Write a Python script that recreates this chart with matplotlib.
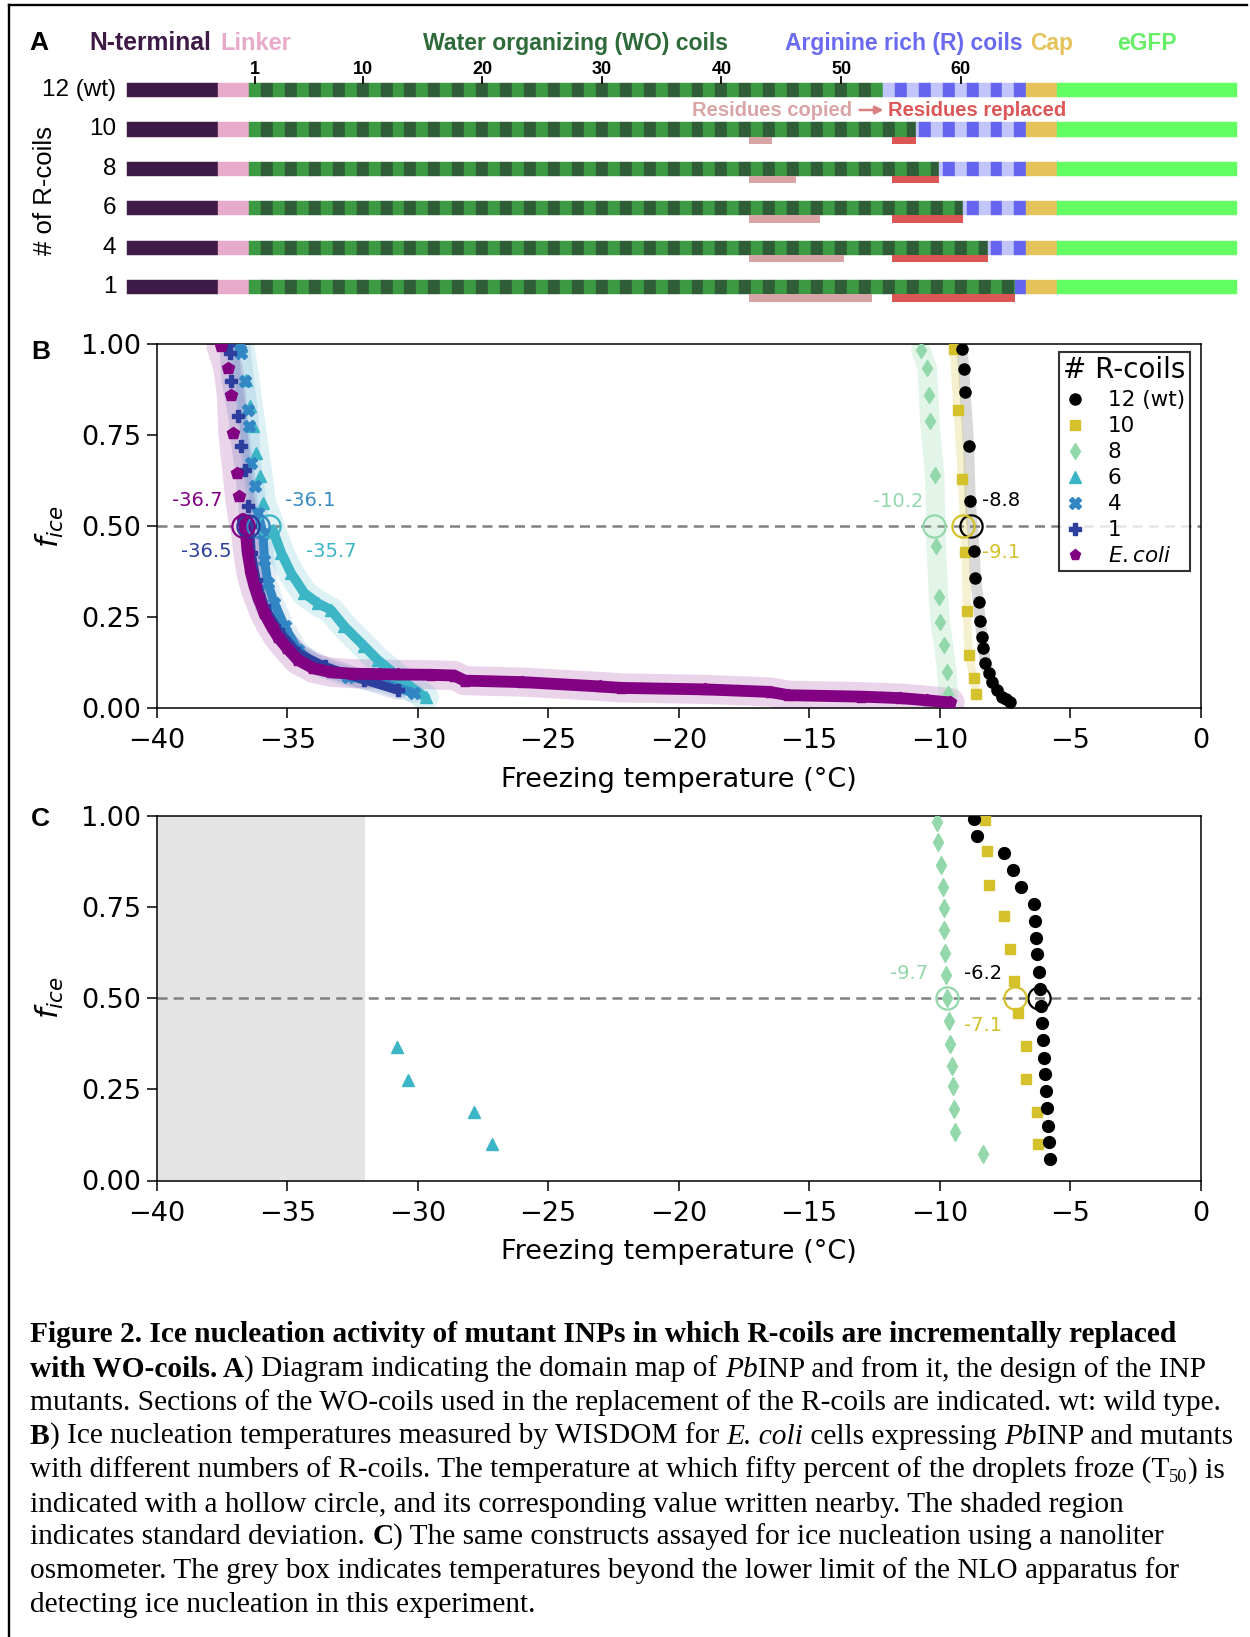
import matplotlib
matplotlib.use("Agg")
import matplotlib.pyplot as plt
from matplotlib.lines import Line2D
from matplotlib.font_manager import FontProperties
import math

W, H, DPI = 1250, 1637, 100

# ---------------- Panel A: domain map (x in coil units) ----------------
row_labels = ["12 (wt)", "10", "8", "6", "4", "1"]
wo_coil_end = [53.0, 55.78, 57.73, 59.74, 61.76, 64.04]
copied_start = 41.77
copied_end = [None, 43.72, 45.74, 47.75, 49.73, 52.08]
replaced_start = 53.76
nterm_range = (-10.17, -2.57)
linker_range = (-2.57, 0.0)
r_coil_end = 65.0
cap_range = (65.0, 67.57)
egfp_range = (67.57, 82.65)
coil_tick_numbers = [1, 10, 20, 30, 40, 50, 60]

# ---------------- Panel B: WISDOM ----------------
b_wt_T = [-9.14, -9.08, -9.02, -8.89, -8.83, -8.67, -8.63, -8.51, -8.45, -8.38, -8.32, -8.25, -8.12, -7.99, -7.80, -7.61, -7.45, -7.29]
b_wt_f = [0.986, 0.931, 0.868, 0.720, 0.569, 0.431, 0.359, 0.291, 0.240, 0.197, 0.166, 0.125, 0.096, 0.073, 0.050, 0.032, 0.025, 0.018]
b_r10_T = [-9.46, -9.31, -9.14, -9.02, -8.95, -8.89, -8.70, -8.60]
b_r10_f = [0.986, 0.820, 0.630, 0.430, 0.267, 0.147, 0.083, 0.040]
b_r8_T = [-10.72, -10.48, -10.42, -10.38, -10.19, -10.13, -10.04, -9.98, -9.85, -9.72, -9.67]
b_r8_f = [0.985, 0.936, 0.862, 0.789, 0.642, 0.445, 0.307, 0.238, 0.174, 0.100, 0.040]
b_r6_T = [-36.76, -36.57, -36.44, -36.32, -36.19, -36.06, -35.93, -35.55, -35.23, -34.85, -34.34, -33.83, -33.32, -32.81, -32.04, -31.53, -30.80, -30.20, -29.70]
b_r6_f = [0.995, 0.903, 0.830, 0.775, 0.700, 0.637, 0.565, 0.490, 0.427, 0.371, 0.316, 0.289, 0.270, 0.225, 0.170, 0.133, 0.090, 0.055, 0.030]
b_r4_T = [-36.80, -36.76, -36.63, -36.50, -36.45, -36.38, -36.25, -36.12, -35.93, -35.87, -35.74, -35.49, -35.10, -34.59, -33.83, -32.68, -31.28, -30.13]
b_r4_f = [1.000, 0.977, 0.900, 0.820, 0.775, 0.674, 0.610, 0.537, 0.480, 0.408, 0.344, 0.289, 0.225, 0.161, 0.115, 0.087, 0.069, 0.041]
b_r1_T = [-37.25, -37.21, -37.14, -36.89, -36.76, -36.63, -36.50, -36.44, -36.38, -36.19, -35.87, -35.36, -34.59, -33.57, -32.04, -30.77]
b_r1_f = [1.000, 0.977, 0.900, 0.803, 0.720, 0.656, 0.555, 0.500, 0.427, 0.353, 0.280, 0.216, 0.152, 0.115, 0.078, 0.050]
b_ec_T = [-37.53, -37.27, -37.14, -37.08, -36.92, -36.83, -36.70, -36.57, -36.51, -36.38, -36.25, -36.12, -35.87, -35.60, -35.36, -35.00, -34.59, -34.00, -33.32, -32.50, -31.50, -30.77, -29.50, -28.60, -28.20, -26.00, -23.00, -22.20, -19.00, -16.50, -15.80, -13.00, -11.50, -10.50, -9.60]
b_ec_f = [0.995, 0.935, 0.862, 0.757, 0.647, 0.582, 0.520, 0.472, 0.427, 0.371, 0.335, 0.307, 0.261, 0.225, 0.197, 0.165, 0.133, 0.110, 0.099, 0.095, 0.094, 0.093, 0.092, 0.090, 0.076, 0.072, 0.060, 0.056, 0.052, 0.045, 0.036, 0.032, 0.028, 0.022, 0.016]

b_t50 = {"12 (wt)": -8.8, "10": -9.1, "8": -10.2, "6": -35.7, "4": -36.1, "1": -36.5, "E. coli": -36.7}

# ---------------- Panel C: nanoliter osmometer ----------------
c_wt_T = [-8.67, -8.57, -7.52, -7.19, -6.89, -6.40, -6.34, -6.30, -6.25, -6.21, -6.15, -6.12, -6.08, -6.04, -5.99, -5.95, -5.93, -5.89, -5.86, -5.80, -5.78]
c_wt_f = [0.991, 0.945, 0.898, 0.850, 0.805, 0.757, 0.711, 0.666, 0.620, 0.572, 0.524, 0.479, 0.431, 0.386, 0.337, 0.292, 0.244, 0.198, 0.150, 0.105, 0.059]
c_r10_T = [-8.25, -8.19, -8.09, -7.52, -7.29, -7.14, -7.01, -6.68, -6.68, -6.27, -6.22]
c_r10_f = [0.989, 0.902, 0.811, 0.725, 0.635, 0.547, 0.458, 0.369, 0.278, 0.189, 0.100]
c_r8_T = [-10.10, -10.08, -9.95, -9.87, -9.84, -9.82, -9.78, -9.74, -9.71, -9.65, -9.62, -9.53, -9.49, -9.44, -9.40, -8.32]
c_r8_f = [0.984, 0.927, 0.866, 0.805, 0.748, 0.686, 0.625, 0.562, 0.499, 0.4375, 0.374, 0.314, 0.260, 0.196, 0.132, 0.073]
c_r6_T = [-30.80, -30.36, -27.84, -27.16]
c_r6_f = [0.367, 0.276, 0.187, 0.099]
c_t50 = {"12 (wt)": -6.2, "10": -7.1, "8": -9.7}
nlo_limit = -32.0

x_ticks = [-40, -35, -30, -25, -20, -15, -10, -5, 0]
y_ticks = [0.0, 0.25, 0.5, 0.75, 1.0]

# ---------------- styles ----------------
C_BLACK = "#000000"
C_YEL = "#d4c12b"
C_GRN = "#93d8ab"
C_CYAN = "#3cb6c6"
C_BLUE = "#3386c4"
C_DBLUE = "#2c3e9e"
C_PURP = "#820082"

fig = plt.figure(figsize=(W / DPI, H / DPI), dpi=DPI)
fig.patch.set_facecolor("white")

def fx(px):
    return px / W

def fy(py):
    return 1 - py / H

# ================= Panel A =================
PX0, PPC = 249.0, 11.96          # pixel of coil 0 and pixels per coil
ROW0, ROWSTEP, AH = 90.0, 39.45, 322.0
ax_a = fig.add_axes([0, 1 - AH / H, 1, AH / H])
ax_a.set_xlim(-PX0 / PPC, (W - PX0) / PPC)
ax_a.set_ylim((AH - ROW0) / ROWSTEP, -ROW0 / ROWSTEP)
ax_a.axis("off")

SANS = "Liberation Sans"
C_NT, C_LK = "#3e1a47", "#e8aacb"
C_WO_L, C_WO_D = "#3c9a43", "#2f5d37"
C_R_L, C_R_D = "#c2c5fb", "#6464ee"
C_CAP, C_EGFP = "#e5c25a", "#63ff63"
C_COPY, C_REPL = "#d9a4a6", "#dc5656"
bh = 0.36

for i, lab in enumerate(row_labels):
    ranges, cols = [], []
    ranges.append((nterm_range[0], nterm_range[1] - nterm_range[0])); cols.append(C_NT)
    ranges.append((linker_range[0], linker_range[1] - linker_range[0])); cols.append(C_LK)
    end = wo_coil_end[i]
    k = 0
    while k < end:
        e = min(k + 1, end)
        ranges.append((k, e - k)); cols.append(C_WO_L if (k + 1) % 2 == 1 else C_WO_D)
        k += 1
    k = math.floor(end)
    while k < r_coil_end:
        s = max(k, end)
        ranges.append((s, k + 1 - s)); cols.append(C_R_D if (k + 1) % 2 == 1 else C_R_L)
        k += 1
    ranges.append((cap_range[0], cap_range[1] - cap_range[0])); cols.append(C_CAP)
    ranges.append((egfp_range[0], egfp_range[1] - egfp_range[0])); cols.append(C_EGFP)
    ax_a.broken_barh(ranges, (i - bh / 2, bh), facecolors=cols, edgecolors=cols, linewidth=0.3)
    if copied_end[i] is not None:
        ax_a.broken_barh([(copied_start, copied_end[i] - copied_start)], (i + bh / 2, 0.19),
                         facecolors=C_COPY, linewidth=0)
        ax_a.broken_barh([(replaced_start, end - replaced_start)], (i + bh / 2, 0.19),
                         facecolors=C_REPL, linewidth=0)
    ax_a.text(-11.1, i, lab, ha="right", va="center", fontsize=17.5, family=SANS)

# coil number ticks
for n in coil_tick_numbers:
    ax_a.plot([n - 0.5, n - 0.5], [-0.34, -0.18], color="black", lw=1.3)
    ax_a.text(n - 0.5, -0.41, str(n), ha="center", va="baseline", fontsize=13,
              fontweight="bold", family=SANS)

hy = -1.02
ax_a.text(-18.4, hy, "A", ha="left", va="baseline", fontsize=19, fontweight="bold", family=SANS)
ax_a.text(-13.38, hy, "N-terminal", ha="left", va="baseline", fontsize=17.8, fontweight="bold", color=C_NT, family=SANS)
ax_a.text(-2.42, hy, "Linker", ha="left", va="baseline", fontsize=17, fontweight="bold", color=C_LK, family=SANS)
ax_a.text(14.55, hy, "Water organizing (WO) coils", ha="left", va="baseline", fontsize=16.6, fontweight="bold", color="#2f6b3a", family=SANS)
ax_a.text(44.79, hy, "Arginine rich (R) coils", ha="left", va="baseline", fontsize=16.5, fontweight="bold", color="#6a6af0", family=SANS)
ax_a.text(65.28, hy, "Cap", ha="left", va="baseline", fontsize=16.5, fontweight="bold", color=C_CAP, family=SANS)
ax_a.text(72.55, hy, "eGFP", ha="left", va="baseline", fontsize=16.5, fontweight="bold", color="#66ee66", family=SANS)

ax_a.text(37.07, 0.507, "Residues copied", ha="left", va="center", fontsize=14.5, fontweight="bold", color=C_COPY, family=SANS)
ax_a.text(53.46, 0.507, "Residues replaced", ha="left", va="center", fontsize=14.5, fontweight="bold", color=C_REPL, family=SANS)
ax_a.annotate("", xy=(53.05, 0.507), xytext=(51.05, 0.507),
              arrowprops=dict(arrowstyle="-|>", color="#d98080", lw=1.8, mutation_scale=12,
                              shrinkA=0, shrinkB=0))
ax_a.text(-17.06, 2.535, "# of R-coils", rotation=90, ha="center", va="center", fontsize=18.5, family=SANS)

# ================= Panels B and C =================
AX_L, AX_R = 156.7, 1200.6

def make_axes(top, bottom):
    ax = fig.add_axes([fx(AX_L), fy(bottom), (AX_R - AX_L) / W, (bottom - top) / H])
    ax.set_xlim(-40, 0)
    ax.set_ylim(0, 1)
    ax.set_xticks(x_ticks)
    ax.set_yticks(y_ticks)
    ax.set_yticklabels(["%.2f" % v for v in y_ticks])
    ax.tick_params(axis="both", labelsize=19.5, length=7, width=1.1, direction="out")
    ax.tick_params(axis="x", pad=7.5)
    ax.tick_params(axis="y", pad=4)
    for s in ax.spines.values():
        s.set_linewidth(1.1)
    ax.set_xlabel("Freezing temperature (°C)", fontsize=19.5, labelpad=9)
    ax.set_ylabel("$f_{ice}$", fontsize=22, labelpad=11)
    ax.axhline(0.5, color="#808080", lw=1.8, ls=(0, (4, 2.5)), zorder=1)
    return ax

ax_b = make_axes(344.3, 708.3)
ax_c = make_axes(815.7, 1180.5)

def band(ax, T, f, color, lw, alpha):
    ax.plot(T, f, color=color, lw=lw, alpha=alpha, solid_capstyle="round",
            solid_joinstyle="round", zorder=2)

def series(ax, T, f, color, marker, ms, dense_from=None, dense_lw=6.0, z=3):
    if dense_from is not None:
        ax.plot(T[dense_from:], f[dense_from:], color=color, lw=dense_lw,
                solid_capstyle="round", solid_joinstyle="round", zorder=z)
    ax.plot(T, f, ls="none", marker=marker, ms=ms, color=color, mec=color, zorder=z)

# bands (standard deviation)
band(ax_b, b_ec_T, b_ec_f, C_PURP, 21, 0.17)
band(ax_b, b_r6_T, b_r6_f, C_CYAN, 19, 0.17)
band(ax_b, b_r4_T, b_r4_f, C_BLUE, 14, 0.14)
band(ax_b, b_r1_T, b_r1_f, C_DBLUE, 14, 0.14)
band(ax_b, b_r8_T, b_r8_f, C_GRN, 14, 0.25)
band(ax_b, b_wt_T, b_wt_f, "#909090", 8, 0.35)
band(ax_b, b_r10_T, b_r10_f, C_YEL, 6, 0.22)

series(ax_b, b_r6_T, b_r6_f, C_CYAN, "^", 8, dense_from=7, dense_lw=7, z=3)
series(ax_b, b_r4_T, b_r4_f, C_BLUE, "X", 8, dense_from=7, dense_lw=6.5, z=3.1)
series(ax_b, b_r1_T, b_r1_f, C_DBLUE, "P", 8, dense_from=7, dense_lw=6.5, z=3.2)
series(ax_b, b_ec_T, b_ec_f, C_PURP, "p", 9, dense_from=6, dense_lw=8.5, z=3.3)
series(ax_b, b_r8_T, b_r8_f, C_GRN, "d", 8, z=3)
series(ax_b, b_r10_T, b_r10_f, C_YEL, "s", 7, z=3.1)
series(ax_b, b_wt_T, b_wt_f, C_BLACK, "o", 8, z=3.2)

b_colors = {"12 (wt)": C_BLACK, "10": C_YEL, "8": C_GRN, "6": C_CYAN, "4": C_BLUE, "1": C_DBLUE, "E. coli": C_PURP}
for key, t in b_t50.items():
    ax_b.plot([t], [0.5], ls="none", marker="o", ms=16, mfc="none", mec=b_colors[key], mew=1.6, zorder=5)

ann_b = [("E. coli", -1.74, 0.07, "center", C_PURP),
         ("4", 1.98, 0.07, "center", "#3a8ac2"),
         ("1", -1.60, -0.07, "center", C_DBLUE),
         ("6", 2.39, -0.07, "center", C_CYAN),
         ("8", -1.38, 0.067, "center", C_GRN),
         ("12 (wt)", 0.42, 0.07, "left", C_BLACK),
         ("10", 0.72, -0.073, "left", C_YEL)]
for key, dx, dy, ha, col in ann_b:
    t = b_t50[key]
    ax_b.text(t + dx, 0.5 + dy, "%.1f" % t, color=col, fontsize=14, ha=ha, va="center", zorder=6)

handles = [Line2D([], [], ls="none", marker="o", ms=8, color=C_BLACK),
           Line2D([], [], ls="none", marker="s", ms=7, color=C_YEL),
           Line2D([], [], ls="none", marker="d", ms=8, color=C_GRN),
           Line2D([], [], ls="none", marker="^", ms=8, color=C_CYAN),
           Line2D([], [], ls="none", marker="X", ms=8, color=C_BLUE),
           Line2D([], [], ls="none", marker="P", ms=8, color=C_DBLUE),
           Line2D([], [], ls="none", marker="p", ms=8, color=C_PURP)]
labels = ["12 (wt)", "10", "8", "6", "4", "1", "$E. coli$"]
leg = ax_b.legend(handles, labels, title="# R-coils", loc="upper right",
                  bbox_to_anchor=(0.990, 0.979), fontsize=15.5, title_fontsize=20,
                  frameon=True, fancybox=False, edgecolor="black", framealpha=0.8,
                  borderpad=0.2, labelspacing=0.28, handlelength=1.0, handletextpad=1.0,
                  borderaxespad=0.0)
leg.get_frame().set_linewidth(1.5)
leg.set_zorder(10)

# Panel C
ax_c.axvspan(-40, nlo_limit, color="#e4e4e4", lw=0, zorder=0)
series(ax_c, c_r8_T, c_r8_f, C_GRN, "d", 9)
series(ax_c, c_r10_T, c_r10_f, C_YEL, "s", 7.5)
series(ax_c, c_wt_T, c_wt_f, C_BLACK, "o", 8.5)
series(ax_c, c_r6_T, c_r6_f, C_CYAN, "^", 8.5)
c_colors = {"12 (wt)": C_BLACK, "10": C_YEL, "8": C_GRN}
for key, t in c_t50.items():
    ax_c.plot([t], [0.5], ls="none", marker="o", ms=16, mfc="none", mec=c_colors[key], mew=1.6, zorder=5)
ann_c = [("8", -1.46, 0.068, C_GRN), ("12 (wt)", -2.13, 0.068, C_BLACK), ("10", -1.23, -0.076, C_YEL)]
for key, dx, dy, col in ann_c:
    t = c_t50[key]
    ax_c.text(t + dx, 0.5 + dy, "%.1f" % t, color=col, fontsize=14, ha="center", va="center", zorder=6)

fig.text(fx(40.5), fy(351.7), "B", fontsize=19, fontweight="bold", family=SANS, ha="center", va="center")
fig.text(fx(40), fy(819), "C", fontsize=19, fontweight="bold", family=SANS, ha="center", va="center")

# ================= Caption =================
SERIF = "Liberation Serif"
CAP_SIZE = 21.2
caption_lines = [
    [("Figure 2. Ice nucleation activity of mutant INPs in which R-coils are incrementally replaced", "b")],
    [("with WO-coils. A", "b"), (") Diagram indicating the domain map of ", "n"), ("Pb", "i"), ("INP and from it, the design of the INP", "n")],
    [("mutants. Sections of the WO-coils used in the replacement of the R-coils are indicated. wt: wild type.", "n")],
    [("B", "b"), (") Ice nucleation temperatures measured by WISDOM for ", "n"), ("E. coli", "i"), (" cells expressing ", "n"), ("Pb", "i"), ("INP and mutants", "n")],
    [("with different numbers of R-coils. The temperature at which fifty percent of the droplets froze (T", "n"), ("50", "sub"), (") is", "n")],
    [("indicated with a hollow circle, and its corresponding value written nearby. The shaded region", "n")],
    [("indicates standard deviation. ", "n"), ("C", "b"), (") The same constructs assayed for ice nucleation using a nanoliter", "n")],
    [("osmometer. The grey box indicates temperatures beyond the lower limit of the NLO apparatus for", "n")],
    [("detecting ice nucleation in this experiment.", "n")],
]
baselines = [1341.7, 1377.0, 1409.5, 1444.0, 1478.0, 1511.5, 1544.5, 1578.5, 1612.0]

fig.canvas.draw()
renderer = fig.canvas.get_renderer()

def seg_props(style):
    if style == "b":
        return FontProperties(family=SERIF, size=CAP_SIZE, weight="bold")
    if style == "i":
        return FontProperties(family=SERIF, size=CAP_SIZE, style="italic")
    if style == "sub":
        return FontProperties(family=SERIF, size=CAP_SIZE * 0.62)
    return FontProperties(family=SERIF, size=CAP_SIZE)

def text_width(s, fp):
    w1 = renderer.get_text_width_height_descent("X" + s + "X", fp, ismath=False)[0]
    w0 = renderer.get_text_width_height_descent("XX", fp, ismath=False)[0]
    return w1 - w0

for segs, base in zip(caption_lines, baselines):
    x = 30.0
    for s, style in segs:
        fp = seg_props(style)
        yoff = 4.0 if style == "sub" else 0.0
        fig.text(fx(x), fy(base + yoff), s, fontproperties=fp, ha="left", va="baseline")
        x += text_width(s, fp)

# figure border (left and top)
fig.add_artist(Line2D([fx(9), fx(9)], [fy(1637), fy(5)], color="black", lw=1.7))
fig.add_artist(Line2D([fx(9), fx(1247)], [fy(5), fy(5)], color="black", lw=1.7))

fig.savefig("out.png", dpi=DPI, facecolor="white")
